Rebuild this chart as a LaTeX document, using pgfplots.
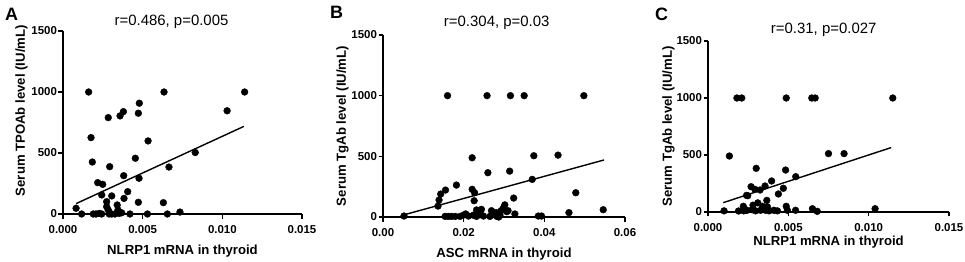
\documentclass[border=0pt]{standalone}
\usepackage{fontspec}
\setmainfont{Liberation Sans}
\usepackage{pgfplots}
\pgfplotsset{compat=1.18}

\pgfplotstableread{
x y
0.00082 47
0.00117 0
0.00161 1000
0.00176 626
0.00184 426
0.0019 0
0.00207 0
0.00218 257
0.00228 5
0.00243 0
0.00249 243
0.00243 156
0.00274 101
0.00284 33
0.00274 60
0.00284 790
0.00293 388
0.00306 148
0.0029 0
0.00306 0
0.00326 0
0.0034 74
0.00345 33
0.00353 5
0.00358 804
0.00379 839
0.00381 314
0.00383 128
0.00368 10
0.00406 183
0.0042 0
0.00454 457
0.00473 826
0.00479 908
0.00477 293
0.00473 96
0.00534 599
0.0053 0
0.00634 1000
0.0063 93
0.00655 0
0.00665 385
0.00734 16
0.0083 504
0.0103 846
0.0114 1000
}\dataA

\pgfplotstableread{
x y
0.0052 8
0.01364 90
0.0139 140
0.0143 189
0.0155 222
0.016 1000
0.0154 5
0.0162 5
0.017 5
0.0179 5
0.0182 263
0.0191 5
0.0199 15
0.0205 25
0.0212 8
0.0221 488
0.0221 228
0.0227 200
0.0226 134
0.0232 58
0.0224 15
0.0236 30
0.0232 5
0.024 40
0.0244 63
0.0249 8
0.0258 1000
0.026 365
0.0265 5
0.0269 52
0.0273 22
0.0281 36
0.0282 5
0.0287 0
0.029 15
0.0293 52
0.0298 72
0.0302 100
0.0307 44
0.031 52
0.0316 1000
0.0314 378
0.0324 156
0.0327 25
0.035 1000
0.037 310
0.0374 505
0.0385 8
0.0393 8
0.0434 510
0.0461 36
0.0478 200
0.0498 1000
0.0546 60
}\dataB

\pgfplotstableread{
x y
0.001 10
0.00133 491
0.0018 1000
0.0021 1000
0.0019 9
0.00222 10
0.0022 50
0.00243 15
0.0024 146
0.00247 143
0.00268 222
0.00275 20
0.00292 199
0.00296 10
0.003 383
0.00324 193
0.00327 15
0.0028 60
0.0031 80
0.0034 50
0.00355 228
0.00358 15
0.00366 102
0.0038 10
0.0037 45
0.00396 272
0.0041 15
0.00432 10
0.00438 158
0.00469 208
0.00483 368
0.00487 1000
0.00487 50
0.00494 15
0.00546 310
0.00545 15
0.00646 1000
0.00667 1000
0.0065 29
0.0068 6
0.0075 512
0.00847 512
0.0104 29
0.0115 1000
}\dataC

\pgfplotsset{
  panel/.style={
    scale only axis,
    axis x line*=bottom, axis y line*=left,
    axis line style={line width=1.2bp, black},
    major tick style={line width=1.2bp, black},
    tick align=outside,
    major tick length=4.5bp,
    scaled x ticks=false, scaled y ticks=false,
    ymin=0, ymax=1500,
    ytick={0,500,1000,1500},
    yticklabels={0,500,1000,1500},
    ticklabel style={font=\bfseries\fontsize{11.5}{12}\selectfont},
    xticklabel style={yshift=-3bp},
    yticklabel style={xshift=2bp},
    label style={font=\bfseries\fontsize{13.2}{14}\selectfont},
    title style={font=\fontsize{15}{16}\selectfont, anchor=base},
    clip=false,
    enlargelimits=false,
    xlabel style={at={(axis description cs:0.5,0)}, anchor=base},
  },
  dots/.style={only marks, mark=*, mark size=3.4bp, black, mark options={fill=black}},
  fit/.style={black, line width=1.4bp, no marks},
}
\tikzset{letter/.style={font=\bfseries\fontsize{18}{19}\selectfont, anchor=base west, inner sep=0pt}}

\begin{document}
\begin{tikzpicture}
\useasboundingbox (0,0) rectangle (965bp,262bp);
% Panel A
\begin{axis}[panel,
  at={(63bp,48bp)}, anchor=south west,
  width=239bp, height=183bp,
  xmin=0, xmax=0.015,
  xtick={0,0.005,0.01,0.015},
  xticklabels={0.000,0.005,0.010,0.015},
  xlabel={NLRP1 mRNA in thyroid},
  xlabel style={yshift=-40bp},
  ylabel={Serum TPOAb level (IU/mL)},
  ylabel style={at={(axis description cs:-0.159,0.565)}, anchor=base},
  title={r=0.486, p=0.005},
  title style={at={(axis description cs:0.454,1)}},
]
\addplot[dots] table[x=x,y=y] {\dataA};
\addplot[fit] coordinates {(0.00082,85) (0.01135,718)};
\node[letter] at (axis description cs:-0.243,1.06) {A};
\end{axis}
% Panel B
\begin{axis}[panel,
  at={(383bp,45bp)}, anchor=south west,
  width=242bp, height=182bp,
  xmin=0, xmax=0.06,
  xtick={0,0.02,0.04,0.06},
  xticklabels={0.00,0.02,0.04,0.06},
  xlabel={ASC mRNA in thyroid},
  xlabel style={yshift=-40bp},
  ylabel={Serum TgAb level (IU/mL)},
  ylabel style={at={(axis description cs:-0.153,0.5)}, anchor=base},
  title={r=0.304, p=0.03},
  title style={at={(axis description cs:0.47,1)}, yshift=3bp},
]
\addplot[dots] table[x=x,y=y] {\dataB};
\addplot[fit] coordinates {(0.0052,18) (0.0548,470)};
\node[letter] at (axis description cs:-0.219,1.09) {B};
\end{axis}
% Panel C
\begin{axis}[panel,
  at={(708bp,50bp)}, anchor=south west,
  width=241bp, height=171bp,
  xmin=0, xmax=0.015,
  xtick={0,0.005,0.01,0.015},
  xticklabels={0.000,0.005,0.010,0.015},
  xlabel={NLRP1 mRNA in thyroid},
  xlabel style={yshift=-34bp},
  ylabel={Serum TgAb level (IU/mL)},
  ylabel style={at={(axis description cs:-0.15,0.5)}, anchor=base},
  title={r=0.31, p=0.027},
  title style={at={(axis description cs:0.48,1)}, yshift=1.5bp},
]
\addplot[dots] table[x=x,y=y] {\dataC};
\addplot[fit] coordinates {(0.00095,82) (0.0114,565)};
\node[letter] at (axis description cs:-0.220,1.12) {C};
\end{axis}
\end{tikzpicture}
\end{document}
